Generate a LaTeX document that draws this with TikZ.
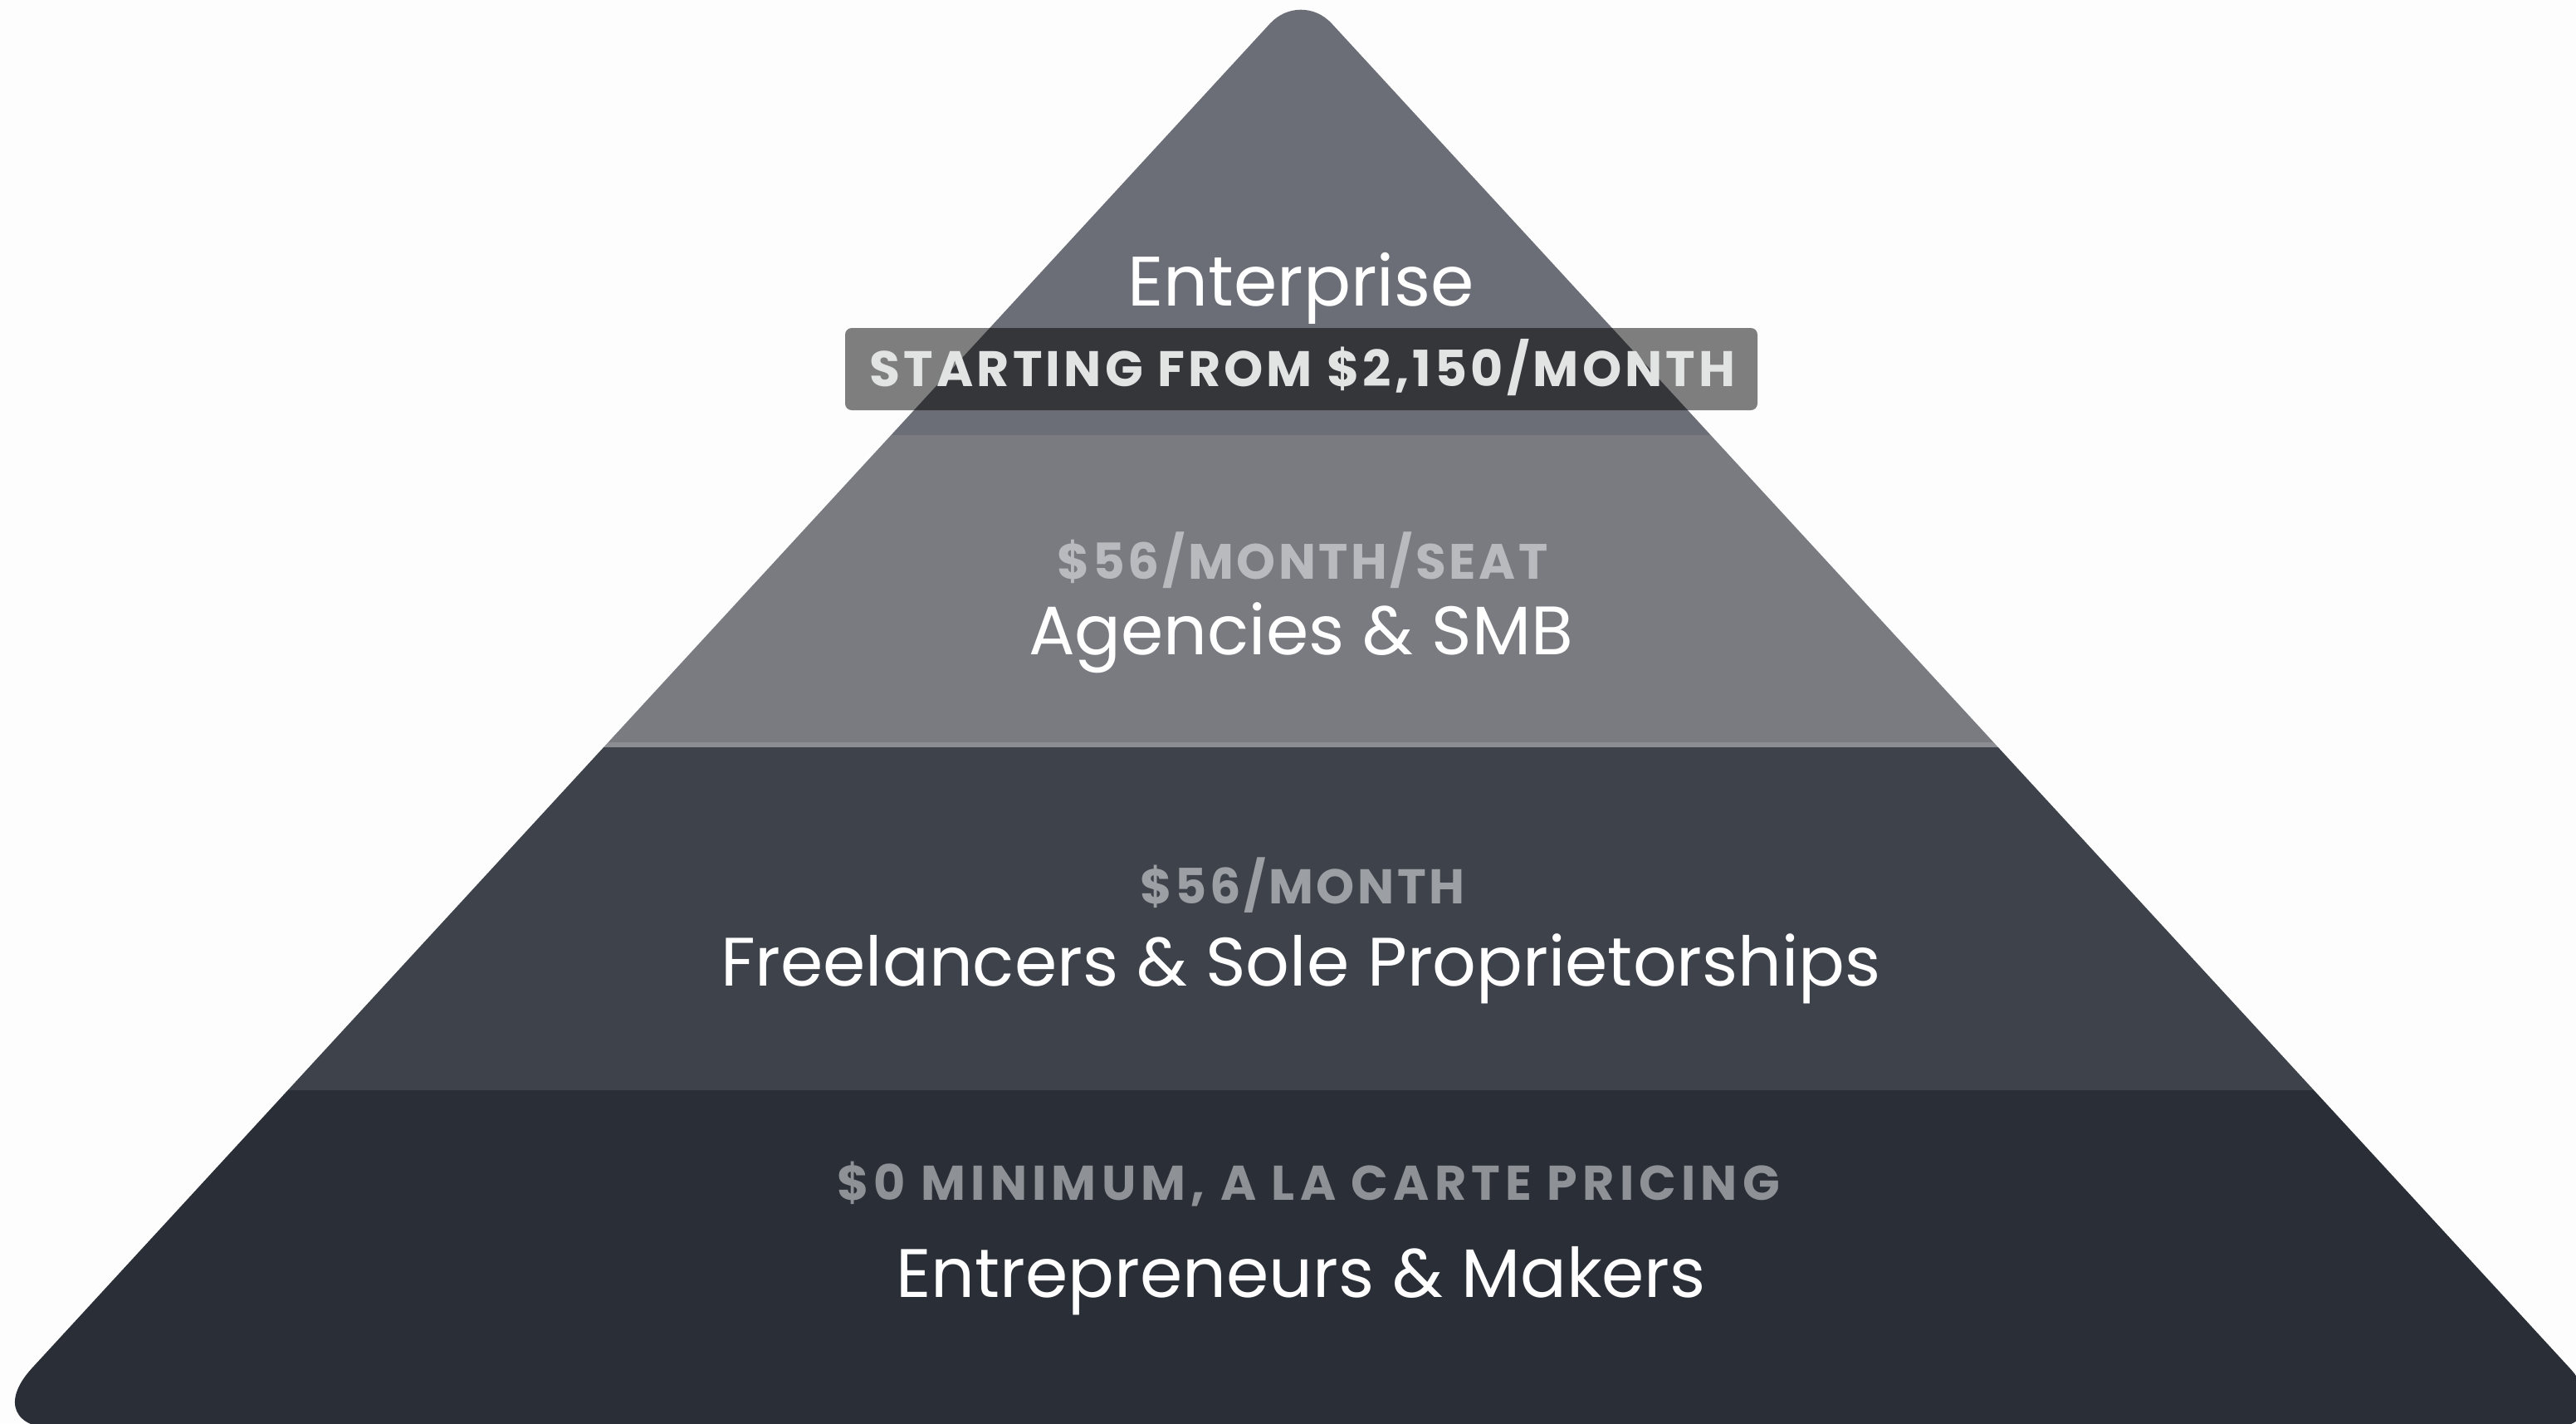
\documentclass[tikz,border=0pt]{standalone}
\usepackage{fontspec}
\setmainfont{Poppins}
\definecolor{pagebg}{HTML}{FDFDFD}
\definecolor{tierone}{HTML}{6B6E76}
\definecolor{tiertwo}{HTML}{797B81}
\definecolor{tierline}{HTML}{8B8D92}
\definecolor{tierthree}{HTML}{3E434B}
\definecolor{tierfour}{HTML}{2A2F37}
\definecolor{priceone}{HTML}{E2E4E4}
\definecolor{pricetwo}{HTML}{B9BABD}
\definecolor{pricethree}{HTML}{9C9FA3}
\definecolor{pricefour}{HTML}{8E9196}

\begin{document}
\begin{tikzpicture}
	\tikzstyle{tiername}=[text=white,inner sep=0pt,anchor=base,font=\fontsize{23.5}{27}\selectfont]
	\tikzstyle{tierprice}=[inner sep=0pt,anchor=base]
	\clip (0,0) rectangle (31.03,-17.14);
	\fill[pagebg] (0,0) rectangle (31.03,-17.14);
	% pyramid bands
	\begin{scope}
		\clip (15.67,-17.21) [rounded corners=10mm] -- (-0.29,-17.21)
			[rounded corners=5.5mm] -- (15.67,0.12)
			[rounded corners=10mm] -- (31.63,-17.21) -- cycle;
		\fill[tierone] (0,0.2) rectangle (31.03,-5.24);
		\fill[tiertwo] (0,-5.24) rectangle (31.03,-8.94);
		\fill[tierline] (0,-8.94) rectangle (31.03,-9.00);
		\fill[tierthree] (0,-9.00) rectangle (31.03,-13.13);
		\fill[tierfour] (0,-13.13) rectangle (31.03,-17.3);
	\end{scope}
	% enterprise price badge
	\fill[black,opacity=0.5,rounded corners=0.08cm] (10.18,-3.95) rectangle (21.17,-4.94);
	\node[tiername,font=\fontsize{24}{28}\selectfont] (ent) at (15.67,-3.68) {Enterprise};
	\node[tierprice,text=priceone,font=\fontsize{17.1}{20}\selectfont\bfseries\addfontfeature{LetterSpace=7}] (entprice) at (15.69,-4.65) {STARTING FROM \$2,150/MONTH};
	\node[tierprice,text=pricetwo,font=\fontsize{17}{20}\selectfont\bfseries\addfontfeature{LetterSpace=6}] (smbprice) at (15.69,-6.97) {\$56/MONTH/SEAT};
	\node[tiername] (smb) at (15.67,-7.88) {Agencies \& SMB};
	\node[tierprice,text=pricethree,font=\fontsize{16.7}{20}\selectfont\bfseries\addfontfeature{LetterSpace=6}] (freeprice) at (15.69,-10.88) {\$56/MONTH};
	\node[tiername] (free) at (15.67,-11.87) {Freelancers \& Sole Proprietorships};
	\node[tierprice,text=pricefour,font=\fontsize{16.7}{20}\selectfont\bfseries\addfontfeature{LetterSpace=10.5}] (makerprice) at (15.76,-14.45) {\$0 MINIMUM, A LA CARTE PRICING};
	\node[tiername] (maker) at (15.67,-15.62) {Entrepreneurs \& Makers};
\end{tikzpicture}
\end{document}
